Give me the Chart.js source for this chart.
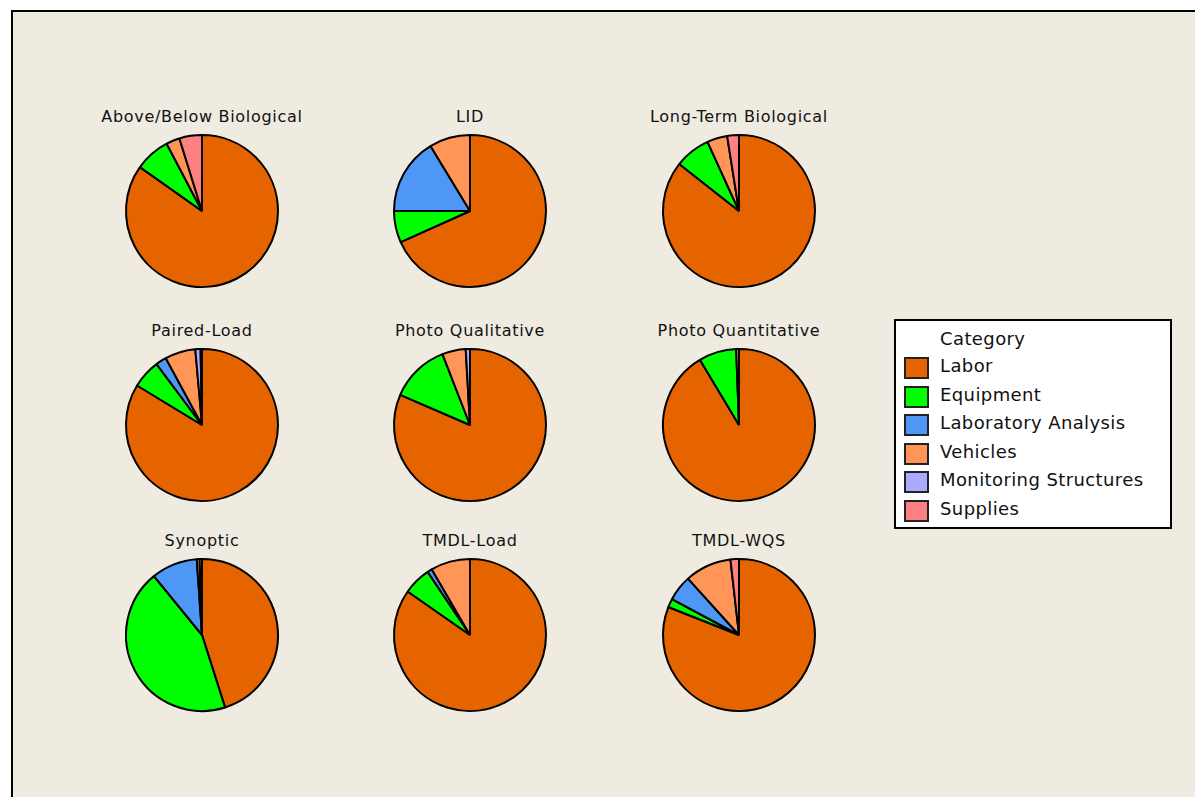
<!DOCTYPE html>
<html>
<head>
<meta charset="utf-8">
<script src="https://cdn.jsdelivr.net/npm/chart.js@4.4.0/dist/chart.umd.min.js"></script>
<style>
  html, body { margin: 0; padding: 0; background: #ffffff; }
  body { width: 1195px; height: 797px; position: relative; overflow: hidden; font-family: "DejaVu Sans", Verdana, sans-serif; }
  #frame { position: absolute; left: 11px; top: 10px; width: 1200px; height: 800px; background: #efebe1; border-left: 2px solid #000; border-top: 2px solid #000; }
  .pie { position: absolute; width: 170px; height: 170px; }
  .title { position: absolute; width: 280px; text-align: center; font-size: 16px; letter-spacing: 0.7px; color: #111; }
  #legend { position: absolute; left: 894px; top: 319px; width: 274px; height: 206px; background: #fff; border: 2px solid #000; font-size: 18px; letter-spacing: 0.4px; color: #111; }
  #legend .head { position: absolute; left: 44px; top: 7px; }
  #legend .row { position: absolute; left: 8px; height: 22px; }
  #legend .sw { position: absolute; left: 0; top: 0; width: 21px; height: 18px; border: 2px solid #222; }
  #legend .lbl { position: absolute; left: 36px; top: -2px; white-space: nowrap; }
</style>
</head>
<body>
<div id="frame"></div>
<div id="legend"><div class="head">Category</div></div>

<script>
const categories = ['Labor', 'Equipment', 'Laboratory Analysis', 'Vehicles', 'Monitoring Structures', 'Supplies'];
const colors = ['#e66400', '#00ff00', '#4f97f5', '#ff9658', '#aaaaff', '#ff8080'];

const pieTitles = ['Above/Below Biological', 'LID', 'Long-Term Biological',
                   'Paired-Load', 'Photo Qualitative', 'Photo Quantitative',
                   'Synoptic', 'TMDL-Load', 'TMDL-WQS'];

// percent of cost per category, same order as categories
const aboveBelow = [84.8, 7.5, 0, 2.9, 0, 4.8];
const lid = [68.3, 6.7, 16.3, 8.7, 0, 0];
const longTerm = [85.6, 7.6, 0, 4.3, 0, 2.5];
const pairedLoad = [83.7, 6.1, 2.3, 6.5, 1.1, 0.3];
const photoQual = [81.5, 12.6, 0, 5.0, 0.9, 0];
const photoQuant = [91.4, 8.0, 0, 0.6, 0, 0];
const synoptic = [45.1, 44.0, 9.8, 0.6, 0.5, 0];
const tmdlLoad = [84.7, 5.9, 1.0, 8.4, 0, 0];
const tmdlWqs = [81.0, 1.8, 5.5, 9.9, 0, 1.8];

const series = [aboveBelow, lid, longTerm, pairedLoad, photoQual, photoQuant, synoptic, tmdlLoad, tmdlWqs];

const colX = [202, 470, 739];
const rowY = [211, 425, 635];
const radius = 76;

series.forEach((values, i) => {
    const cx = colX[i % 3];
    const cy = rowY[Math.floor(i / 3)];

    const title = document.createElement('div');
    title.className = 'title';
    title.textContent = pieTitles[i];
    title.style.left = (cx - 140) + 'px';
    title.style.top = (cy - 104) + 'px';
    document.body.appendChild(title);

    const box = document.createElement('div');
    box.className = 'pie';
    box.style.left = (cx - 85) + 'px';
    box.style.top = (cy - 85) + 'px';
    const canvas = document.createElement('canvas');
    box.appendChild(canvas);
    document.body.appendChild(box);

    new Chart(canvas.getContext('2d'), {
        type: 'pie',
        data: {
            labels: categories,
            datasets: [{
                data: values,
                backgroundColor: colors,
                borderColor: '#000',
                borderWidth: 2,
                radius: radius
            }]
        },
        options: {
            responsive: true,
            maintainAspectRatio: false,
            animation: false,
            plugins: {
                legend: { display: false },
                tooltip: { enabled: false }
            }
        }
    });
});

// legend box
const legend = document.getElementById('legend');
categories.forEach((name, i) => {
    const row = document.createElement('div');
    row.className = 'row';
    row.style.top = (36 + i * 28.5) + 'px';
    const sw = document.createElement('div');
    sw.className = 'sw';
    sw.style.background = colors[i];
    const lbl = document.createElement('div');
    lbl.className = 'lbl';
    lbl.textContent = name;
    row.appendChild(sw);
    row.appendChild(lbl);
    legend.appendChild(row);
});
</script>
</body>
</html>
